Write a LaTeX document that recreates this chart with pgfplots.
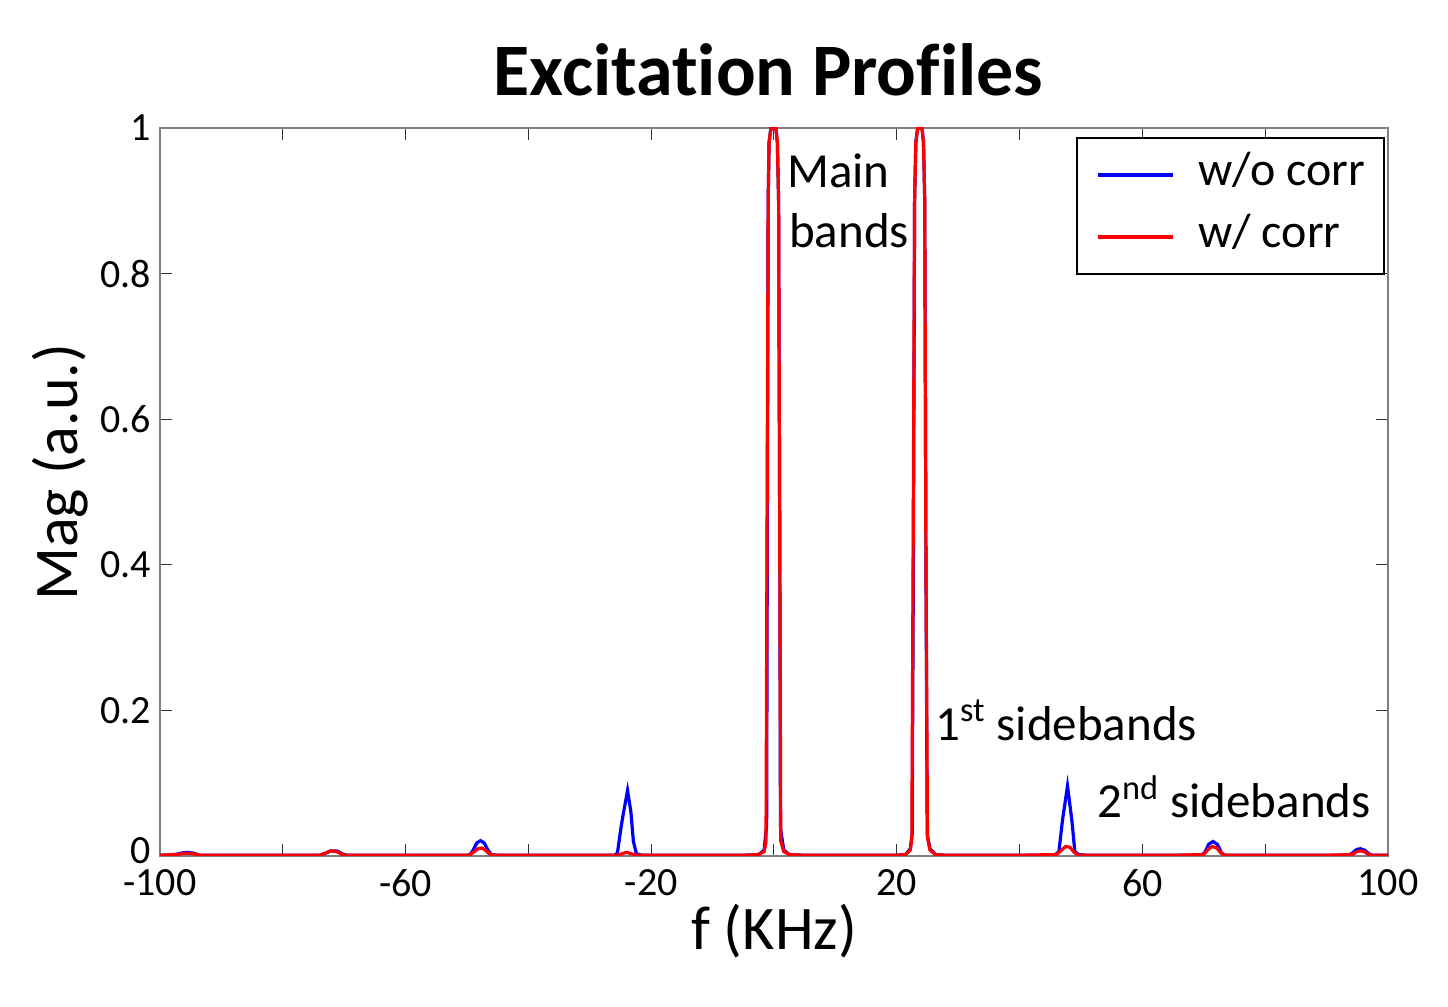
\documentclass[border=0pt]{standalone}
\usepackage{pgfplots}
\pgfplotsset{compat=1.18}
\usepackage{pgfplotstable}
\usepackage{fontspec}
\setmainfont{Carlito}[Ligatures={NoCommon}]

\pgfplotstableread{
x y
-100 0.001
-97.5 0.002
-96.5 0.004
-95.6 0.005
-94.6 0.004
-93.5 0.001
-90 0.001
-85 0.001
-80 0.001
-74 0.001
-73 0.004
-72.2 0.007
-71.2 0.007
-70.3 0.003
-69.5 0.001
-65 0.001
-60 0.001
-55 0.001
-50 0.001
-49.5 0.002
-49 0.008
-48.4 0.018
-47.8 0.021
-47.2 0.018
-46.6 0.008
-46 0.002
-45 0.001
-40 0.001
-35 0.001
-30 0.001
-26 0.001
-25.5 0.004
-24.9 0.04
-24.5 0.06
-23.85 0.09
-23.3 0.06
-22.9 0.02
-22.4 0.003
-21.5 0.001
-15 0.001
-10 0.001
-5 0.001
-2.5 0.002
-1.6 0.008
-1.35 0.03
-1.2 0.04
-1.1 0.4
-0.95 0.9
-0.8 0.98
-0.5 1.0
0.3 1.0
0.55 0.98
0.75 0.9
0.95 0.4
1.05 0.04
1.2 0.03
1.6 0.008
2.5 0.002
5 0.001
10 0.001
15 0.001
20 0.001
21.4 0.002
22.2 0.01
22.5 0.03
22.7 0.4
22.9 0.9
23.1 0.98
23.4 1.0
24.1 1.0
24.35 0.98
24.55 0.9
24.75 0.4
24.95 0.03
25.4 0.01
26.3 0.002
28 0.001
35 0.001
40 0.001
45 0.001
45.8 0.002
46.4 0.006
47.0 0.05
47.8 0.096
48.5 0.05
49.0 0.006
49.6 0.002
51 0.001
55 0.001
60 0.001
65 0.001
69.5 0.001
70.1 0.004
70.8 0.016
71.5 0.02
72.2 0.016
72.9 0.004
73.5 0.001
80 0.001
85 0.001
90 0.001
93.5 0.001
94.2 0.004
94.9 0.009
95.5 0.01
96.2 0.008
96.9 0.003
97.5 0.001
100 0.001
}\woc

\pgfplotstableread{
x y
-100 0.001
-97.5 0.002
-96.5 0.003
-95.6 0.004
-94.6 0.003
-93.5 0.001
-90 0.001
-85 0.001
-80 0.001
-74 0.001
-73 0.004
-72.2 0.007
-71.2 0.006
-70.3 0.002
-69.5 0.001
-65 0.001
-60 0.001
-55 0.001
-50 0.001
-49.5 0.002
-48.8 0.006
-48.2 0.010
-47.6 0.011
-47.0 0.008
-46.4 0.003
-45.6 0.001
-40 0.001
-35 0.001
-30 0.001
-25.5 0.001
-24.8 0.003
-24.0 0.005
-23.2 0.003
-22.4 0.001
-15 0.001
-10 0.001
-5 0.001
-2.5 0.002
-1.6 0.006
-1.3 0.02
-1.15 0.4
-0.95 0.9
-0.8 0.98
-0.5 1.0
0.3 1.0
0.55 0.98
0.75 0.9
0.95 0.4
1.1 0.02
1.6 0.006
2.5 0.002
5 0.001
10 0.001
15 0.001
20 0.001
21.4 0.002
22.2 0.008
22.45 0.025
22.65 0.4
22.9 0.9
23.1 0.98
23.4 1.0
24.1 1.0
24.35 0.98
24.55 0.9
24.75 0.4
25.0 0.025
25.4 0.008
26.3 0.002
28 0.001
35 0.001
40 0.001
46.0 0.002
46.7 0.007
47.5 0.013
48.2 0.012
48.9 0.005
49.6 0.001
55 0.001
60 0.001
65 0.001
70.0 0.002
70.7 0.009
71.4 0.013
72.1 0.011
72.8 0.004
73.5 0.001
80 0.001
85 0.001
90 0.001
94.2 0.002
94.9 0.006
95.5 0.007
96.1 0.006
96.8 0.002
97.5 0.001
100 0.001
}\wc

\begin{document}
\begin{tikzpicture}
\path[use as bounding box] (-80pt,-75.5pt) rectangle (644pt,428pt);
\begin{axis}[
  scale only axis,
  width=614pt, height=364pt,
  xmin=-100, xmax=100, ymin=0, ymax=1,
  xtick={-100,-80,...,100},
  xticklabels={-100,,-60,,-20,,20,,60,,100},
  ytick={0,0.2,0.4,0.6,0.8,1},
  yticklabels={\raisebox{5pt}{0},0.2,0.4,0.6,0.8,1},
  /pgf/number format/assume math mode=true,
  tick label style={font=\fontsize{20}{24}\selectfont},
  xticklabel style={yshift=-3pt},
  yticklabel style={xshift=-1pt},
  tick align=inside,
  major tick length=6pt,
  tick style={black!80, line width=0.5pt},
  axis line style={draw=gray, line width=0.6pt},
  xlabel={f (KHz)},
  ylabel={Mag (a.u.)},
  label style={font=\fontsize{31}{36}\selectfont},
  xlabel style={at={(axis description cs:0.5,-0.129)}, anchor=base},
  ylabel style={at={(axis description cs:-0.0668,0.527)}, anchor=base},
  title={\bfseries Excitation Profiles},
  title style={at={(axis description cs:0.4955,1.045)}, anchor=base, yshift=-6pt, font=\fontsize{37}{44}\selectfont},
  legend style={at={(rel axis cs:0.9976,0.9876)}, anchor=north east,
    draw=black, line width=0.9pt, font=\fontsize{24}{28}\selectfont,
    inner xsep=9.5pt, inner ysep=7pt, row sep=8pt,
    nodes={inner sep=0pt, text height=17pt, text depth=6pt},
    /tikz/every odd column/.append style={column sep=12pt}},
  legend cell align=left,
  legend image code/.code={\draw[#1, line width=1.6pt] (0pt,0pt) -- (37.5pt,0pt);},
]
\addplot[blue, line width=1.6pt] table {\woc};
\addlegendentry{w/o corr}
\addplot[red, line width=1.6pt] table {\wc};
\addlegendentry{w/ corr}
\node[anchor=base west, inner sep=0pt, font=\fontsize{24.5}{28}\selectfont] at (axis cs:2.1,0.918) {Main};
\node[anchor=base west, inner sep=0pt, font=\fontsize{24.5}{28}\selectfont] at (axis cs:2.4,0.8365) {bands};
\node[anchor=base west, inner sep=0pt, font=\fontsize{24.5}{28}\selectfont] at (axis cs:26.2,0.1593) {1\textsuperscript{st} sidebands};
\node[anchor=base west, inner sep=0pt, font=\fontsize{24.5}{28}\selectfont] at (axis cs:52.6,0.0522) {2\textsuperscript{nd} sidebands};
\end{axis}
\end{tikzpicture}
\end{document}
